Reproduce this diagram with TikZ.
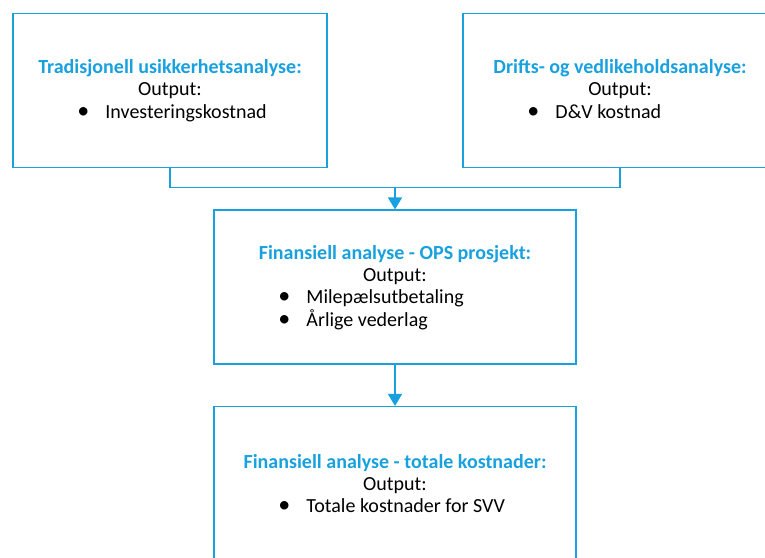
\documentclass[tikz,border=0pt]{standalone}
\usepackage{fontspec}
\setmainfont{Carlito}
\usepackage{tikz}
\usetikzlibrary{positioning, arrows.meta, calc}
\definecolor{svvblue}{RGB}{24,161,222}

\begin{document}
\begin{tikzpicture}[
    x=1pt, y=-1pt,
    every node/.style={font=\fontsize{20}{22.5}\selectfont},
    box/.style={draw=svvblue, line width=1.5pt, minimum height=154pt, inner sep=0pt},
    smallbox/.style={box, minimum width=314pt},
    widebox/.style={box, minimum width=362pt},
    head/.style={anchor=base, inner sep=0pt, text=svvblue, font=\fontsize{20}{22.5}\selectfont\bfseries},
    outline/.style={anchor=base, inner sep=0pt},
    item/.style={anchor=base west, inner sep=0pt},
    link/.style={svvblue, line width=1.5pt},
    flow/.style={link, -{Triangle[length=12pt, width=14pt]}}
]
    \useasboundingbox (0,0) rectangle (765,557);

    % boxes
    \node[smallbox] (trad) at (170,90.3) {};
    \node[smallbox] (drift) at (620,90.3) {};
    \node[widebox] (ops) at (395,287.2) {};
    \node[widebox] (total) at (395,483.7) {};

    % texts
    \node[head] (trad-head) at ($(trad.north)+(0,61)$) {Tradisjonell usikkerhetsanalyse:};
    \node[outline] (trad-out) at ($(trad-head.base)+(0,22)$) {Output:};
    \node[item] (trad-i1) at ($(trad.north west)+(65,105.5)$) {\makebox[28pt][l]{\scalebox{1.2}{\textbullet}}Investeringskostnad};

    \node[head] (drift-head) at ($(drift.north)+(0,61)$) {Drifts- og vedlikeholdsanalyse:};
    \node[outline] (drift-out) at ($(drift-head.base)+(0,22)$) {Output:};
    \node[item] (drift-i1) at ($(drift.north west)+(65,105.5)$) {\makebox[28pt][l]{\scalebox{1.2}{\textbullet}}D\&V kostnad};

    \node[head] (ops-head) at ($(ops.north)+(0,50)$) {Finansiell analyse - OPS prosjekt:};
    \node[outline] (ops-out) at ($(ops-head.base)+(0,22.3)$) {Output:};
    \node[item] (ops-i1) at ($(ops.north west)+(65,94.3)$) {\makebox[28pt][l]{\scalebox{1.2}{\textbullet}}Milepælsutbetaling};
    \node[item] (ops-i2) at ($(ops.north west)+(65,117.3)$) {\makebox[28pt][l]{\scalebox{1.2}{\textbullet}}Årlige vederlag};

    \node[head] (total-head) at ($(total.north)+(0,62.3)$) {Finansiell analyse - totale kostnader:};
    \node[outline] (total-out) at ($(total-head.base)+(0,22)$) {Output:};
    \node[item] (total-i1) at ($(total.north west)+(65,106.7)$) {\makebox[28pt][l]{\scalebox{1.2}{\textbullet}}Totale kostnader for SVV};

    % connectors
    \coordinate (merge) at (395,187.3);
    \draw[link] (trad.south) |- (merge) -| (drift.south);
    \draw[flow] (merge) -- (ops.north);
    \draw[flow] (ops.south) -- (total.north);
\end{tikzpicture}
\end{document}
